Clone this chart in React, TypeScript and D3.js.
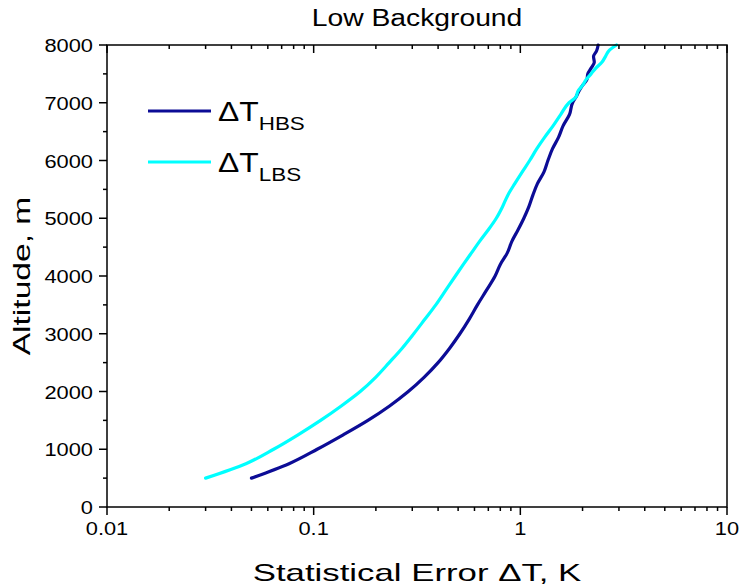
import React from "react";
import * as d3 from "d3";

const altitudes = [500, 750, 1000, 1250, 1500, 1750, 2000, 2250, 2500, 2750, 3000, 3250, 3500, 3750, 4000, 4200, 4400, 4600, 4800, 5000, 5200, 5400, 5600, 5800, 6000, 6200, 6400, 6600, 6800, 7000, 7100, 7200, 7300, 7400, 7500, 7600, 7700, 7800, 7900, 8000];
const hbsValues = [0.050, 0.076, 0.104, 0.139, 0.183, 0.233, 0.287, 0.343, 0.40, 0.455, 0.51, 0.565, 0.62, 0.685, 0.755, 0.80, 0.865, 0.91, 0.975, 1.04, 1.10, 1.15, 1.21, 1.30, 1.36, 1.43, 1.53, 1.61, 1.73, 1.79, 1.86, 1.92, 2.0, 2.1, 2.12, 2.2, 2.28, 2.26, 2.34, 2.38];
const lbsValues = [0.030, 0.047, 0.064, 0.084, 0.108, 0.136, 0.168, 0.200, 0.232, 0.268, 0.305, 0.345, 0.39, 0.435, 0.485, 0.53, 0.58, 0.635, 0.70, 0.765, 0.82, 0.87, 0.94, 1.02, 1.11, 1.20, 1.31, 1.44, 1.57, 1.72, 1.86, 1.90, 2.0, 2.08, 2.2, 2.32, 2.48, 2.58, 2.68, 2.92];
const xTickValues = [0.01, 0.1, 1, 10];
const xTickLabels = ["0.01", "0.1", "1", "10"];
const yTickValues = [0, 1000, 2000, 3000, 4000, 5000, 6000, 7000, 8000];
const seriesNames = ["HBS", "LBS"];
const seriesColors = ["#0c0c96", "#00ffff"];

const W = 741, H = 586;
const L = 107, R = 727, T = 45, B = 507;
const FONT = "'Liberation Sans', Arial, sans-serif";

function SText({ x, y, anchor = "middle", size, sx = 1.15, rotate = 0, children }: any) {
  return (
    <g transform={`translate(${x},${y}) rotate(${rotate}) scale(${sx},1)`}>
      <text x={0} y={0} textAnchor={anchor} fontSize={size} fontFamily={FONT} fill="#000">
        {children}
      </text>
    </g>
  );
}

export default function App() {
  const x = d3.scaleLog().domain([0.01, 10]).range([L, R]);
  const y = d3.scaleLinear().domain([0, 8000]).range([B, T]);
  const line = d3.line<[number, number]>().x((d) => x(d[0])).y((d) => y(d[1])).curve(d3.curveMonotoneY);
  const series = [hbsValues, lbsValues].map((vals) => vals.map((v, i) => [v, altitudes[i]] as [number, number]));

  const minorX: number[] = [];
  for (let dec = 0.01; dec < 10; dec *= 10) {
    for (let k = 2; k <= 9; k++) minorX.push(dec * k);
  }
  const minorY = d3.range(500, 8000, 1000);

  return (
    <svg width={W} height={H} style={{ position: "absolute", left: 0, top: 0, background: "#fff" }}>
      <rect x={0} y={0} width={W} height={H} fill="#fff" />
      <defs>
        <clipPath id="plot">
          <rect x={L} y={T - 2} width={R - L} height={B - T + 4} />
        </clipPath>
      </defs>
      <g clipPath="url(#plot)">
        {series.map((s, i) => (
          <path key={i} d={line(s) || ""} fill="none" stroke={seriesColors[i]} strokeWidth={3.2} strokeLinejoin="round" strokeLinecap="round" />
        ))}
      </g>
      {/* frame */}
      <rect x={L} y={T} width={R - L} height={B - T} fill="none" stroke="#000" strokeWidth={1.5} />
      {/* bottom ticks */}
      {xTickValues.map((v) => (
        <line key={"bx" + v} x1={x(v)} x2={x(v)} y1={B} y2={B + 8} stroke="#000" strokeWidth={1.5} />
      ))}
      {minorX.map((v) => (
        <line key={"bm" + v} x1={x(v)} x2={x(v)} y1={B} y2={B + 4} stroke="#000" strokeWidth={1.5} />
      ))}
      {/* top ticks (inward) */}
      {xTickValues.map((v) => (
        <line key={"tx" + v} x1={x(v)} x2={x(v)} y1={T} y2={T + 8} stroke="#000" strokeWidth={1.5} />
      ))}
      {minorX.map((v) => (
        <line key={"tm" + v} x1={x(v)} x2={x(v)} y1={T} y2={T + 4} stroke="#000" strokeWidth={1.5} />
      ))}
      {/* left ticks */}
      {yTickValues.map((v) => (
        <line key={"ly" + v} x1={L - 8} x2={L} y1={y(v)} y2={y(v)} stroke="#000" strokeWidth={1.5} />
      ))}
      {minorY.map((v) => (
        <line key={"lm" + v} x1={L - 4} x2={L} y1={y(v)} y2={y(v)} stroke="#000" strokeWidth={1.5} />
      ))}
      {/* tick labels */}
      {xTickValues.map((v, i) => (
        <SText key={"xl" + v} x={x(v)} y={535} size={19}>{xTickLabels[i]}</SText>
      ))}
      {yTickValues.map((v) => (
        <SText key={"yl" + v} x={93} y={y(v) + 7} size={19} anchor="end">{String(v)}</SText>
      ))}
      {/* titles */}
      <SText x={(L + R) / 2} y={26} size={23} sx={1.23}>Low Background</SText>
      <SText x={(L + R) / 2} y={581} size={24} sx={1.45}>Statistical Error ΔT, K</SText>
      <SText x={30} y={(T + B) / 2} size={24} sx={1.4} rotate={-90}>Altitude, m</SText>
      {/* legend */}
      {seriesNames.map((name, i) => {
        const ly = 111 + i * 51;
        return (
          <g key={name}>
            <line x1={148} x2={211} y1={ly} y2={ly} stroke={seriesColors[i]} strokeWidth={3.2} />
            <g transform={`translate(218,${ly + 10}) scale(1.18,1)`}>
              <text x={0} y={0} fontSize={27} fontFamily={FONT} fill="#000">
                ΔT
                <tspan fontSize={19} dy={9}>{name}</tspan>
              </text>
            </g>
          </g>
        );
      })}
    </svg>
  );
}
